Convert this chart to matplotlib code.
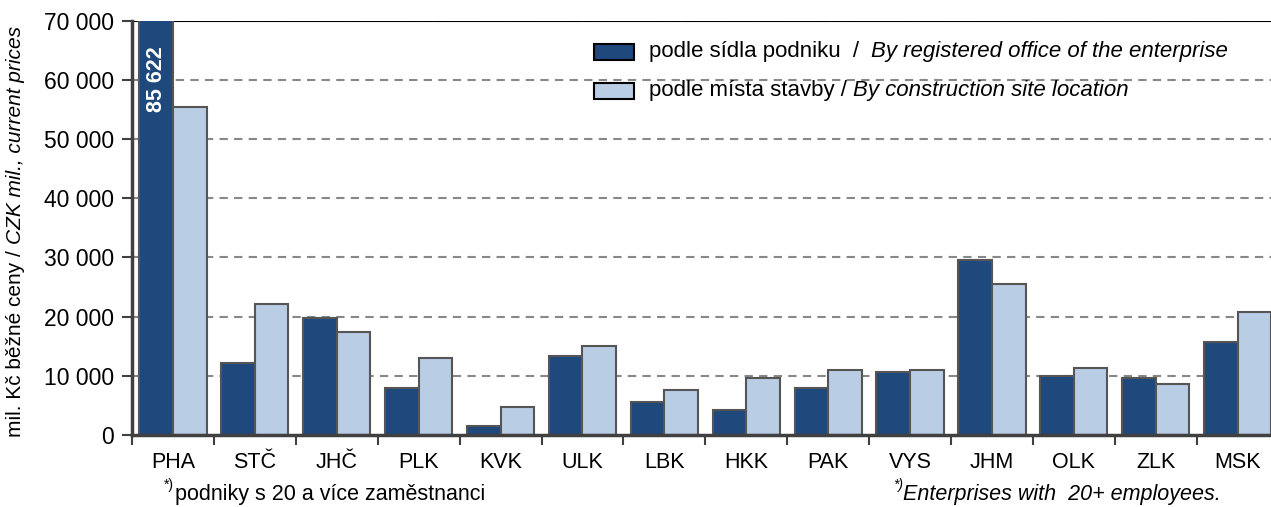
import matplotlib
matplotlib.use("Agg")
import matplotlib.pyplot as plt
from matplotlib.patches import Rectangle
from matplotlib.ticker import FuncFormatter, MultipleLocator
import numpy as np

plt.rcParams['font.family'] = ['Liberation Sans', 'DejaVu Sans']

regions = ["PHA", "STČ", "JHČ", "PLK", "KVK", "ULK", "LBK", "HKK",
           "PAK", "VYS", "JHM", "OLK", "ZLK", "MSK"]
by_office = [85622, 12100, 19700, 8000, 1600, 13400, 5600, 4300,
             8000, 10700, 29500, 10000, 9700, 15700]
by_site = [55500, 22100, 17400, 13000, 4700, 15000, 7600, 9700,
           11000, 11000, 25500, 11300, 8700, 20800]

label_office_cz = "podle sídla podniku  /  "
label_office_en = "By registered office of the enterprise"
label_site_cz = "podle místa stavby / "
label_site_en = "By construction site location"
ylabel_cz = "mil. Kč běžné ceny / "
ylabel_en = "CZK mil., current prices"
note_cz = "podniky s 20 a více zaměstnanci"
note_en = "Enterprises with  20+ employees."

DARK = "#1f497d"
LIGHT = "#b9cde5"
EDGE = "#555555"
AXIS = "#404040"
FS = 15.5

W, H = 1271, 507
fig = plt.figure(figsize=(W / 100, H / 100), dpi=100)
ax = fig.add_axes([132 / W, (H - 435) / H, 1146.6 / W, 414.3 / H])

x = np.arange(len(regions))
bw = 0.41
ax.bar(x - bw / 2, by_office, bw, color=DARK, edgecolor=EDGE, linewidth=1.5, zorder=3)
ax.bar(x + bw / 2, by_site, bw, color=LIGHT, edgecolor=EDGE, linewidth=1.5, zorder=3)

ax.set_xlim(-0.5, len(regions) - 0.5)
ax.set_ylim(0, 70000)

ax.yaxis.set_major_locator(MultipleLocator(10000))
ax.yaxis.set_major_formatter(FuncFormatter(lambda v, p: f"{int(v):,}".replace(",", " ")))
for v in range(10000, 70001, 10000):
    ax.axhline(v, color="#888888", lw=1.5, ls=(0, (4, 3)), zorder=1)
ax.axhline(70000, color="black", lw=1.5, zorder=2)

ax.set_xticks(x)
ax.set_xticklabels(regions)
ax.set_xticks(np.arange(-0.5, len(regions), 1), minor=True)
ax.tick_params(axis="x", which="major", length=0, pad=12, labelsize=FS)
ax.tick_params(axis="x", which="minor", length=7, width=1.5, color=AXIS, direction="out")
ax.tick_params(axis="y", length=7, width=1.5, color=AXIS, direction="out",
               labelsize=16.5, pad=6)

for s in ("top", "right"):
    ax.spines[s].set_visible(False)
ax.spines["left"].set_color(AXIS)
ax.spines["left"].set_linewidth(2.5)
ax.spines["bottom"].set_color(AXIS)
ax.spines["bottom"].set_linewidth(2.5)
ax.spines["left"].set_zorder(4)
ax.spines["bottom"].set_zorder(4)

# value of the clipped Prague bar
ax.text(0 - bw / 2, 60150, f"{by_office[0]:,}".replace(",", " "), rotation=90,
        color="white", fontweight="bold", fontsize=15.5, ha="center", va="center", zorder=5)

fig.canvas.draw()
renderer = fig.canvas.get_renderer()


def run_h(x0, y0, parts, size=FS):
    """Draw text pieces one after another on a common baseline (pixel coords)."""
    cx = x0
    for txt, style in parts:
        t = fig.text(cx / W, 1 - y0 / H, txt, fontsize=size, style=style,
                     ha="left", va="baseline")
        bb = t.get_window_extent(renderer)
        cx += bb.width
    return cx


def run_v(xc, y0, parts, size=FS):
    """Draw rotated pieces bottom-to-top starting at pixel y0."""
    cy = y0
    for txt, style in parts:
        t = fig.text(xc / W, 1 - cy / H, txt, fontsize=size, style=style,
                     rotation=90, ha="center", va="bottom")
        bb = t.get_window_extent(renderer)
        cy -= bb.height


run_v(16, 437, [(ylabel_cz, "normal"), (ylabel_en, "italic")], size=15)

# legend
fig.patches.append(Rectangle((594 / W, 1 - 60 / H), 40 / W, 16 / H, transform=fig.transFigure,
                             facecolor=DARK, edgecolor="black", lw=1.5))
fig.patches.append(Rectangle((594 / W, 1 - 99 / H), 40 / W, 16 / H, transform=fig.transFigure,
                             facecolor=LIGHT, edgecolor="black", lw=1.5))
run_h(649, 57, [(label_office_cz, "normal"), (label_office_en, "italic")], size=16)
run_h(649, 96, [(label_site_cz, "normal"), (label_site_en, "italic")], size=16)

# footnotes
fig.text(164 / W, 1 - 489 / H, "*)", fontsize=10, ha="left", va="baseline")
fig.text(175 / W, 1 - 500 / H, note_cz, fontsize=FS, ha="left", va="baseline")
fig.text(893 / W, 1 - 489 / H, "*)", fontsize=10, style="italic", ha="left", va="baseline")
fig.text(903 / W, 1 - 500 / H, note_en, fontsize=FS, style="italic", ha="left", va="baseline")

fig.savefig("out.png", dpi=100)
